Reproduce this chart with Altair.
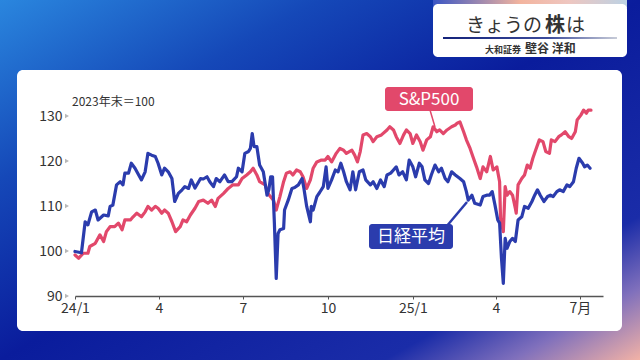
import altair as alt
import pandas as pd

FONT = "Noto Sans CJK JP"

# ---------------- data (days since 2024-01-01, index 2023年末=100) ----------------
nikkei_days = [0, 7, 11, 14, 18, 22, 25, 31, 36, 38, 41, 45, 49, 52, 54, 58, 61, 65, 69, 72,
               76, 79, 83, 87, 90, 94, 97, 101, 105, 108, 112, 116, 119, 123, 126, 130, 134, 136, 139, 143,
               146, 150, 153, 157, 162, 166, 170, 175, 177, 181, 184, 188, 190, 192, 194, 197, 200, 204, 208, 210,
               212, 214, 216, 218, 220, 222, 226, 227, 231, 235, 238, 242, 246, 248, 251, 255, 256, 258, 262, 265,
               269, 272, 274, 278, 282, 285, 288, 291, 294, 298, 301, 304, 308, 312, 315, 320, 323, 327, 331, 335,
               338, 342, 345, 348, 351, 355, 359, 362, 366, 369, 373, 376, 379, 383, 386, 390, 394, 397, 401, 404,
               408, 412, 417, 421, 424, 426, 430, 433, 439, 442, 446, 449, 452, 455, 458, 460, 462, 464, 466, 468,
               471, 474, 477, 480, 484, 487, 491, 495, 498, 501, 504, 508, 512, 515, 518, 522, 525, 529, 533, 536,
               540, 543, 546, 550, 552, 555, 558]
nikkei_vals = [99.9, 99.6, 106.5, 105.8, 108.7, 109.1, 106.9, 108.0, 107.8, 109.9, 110.2, 114.7, 115.4, 114.7, 117.3, 117.3, 119.5, 118.4, 116.9, 115.8,
               117.6, 121.7, 121.3, 121.0, 119.5, 116.9, 118.4, 117.6, 116.1, 111.0, 112.8, 113.6, 114.3, 113.9, 115.8, 114.0, 115.4, 116.1, 116.0, 116.5,
               115.4, 114.3, 116.1, 115.4, 116.9, 115.4, 115.4, 116.5, 118.4, 117.6, 121.7, 122.1, 122.8, 126.1, 123.2, 123.2, 119.1, 117.6, 112.4, 113.6,
               116.5, 116.5, 106.2, 93.9, 103.9, 104.7, 105.0, 109.1, 111.3, 113.9, 114.1, 114.7, 116.1, 113.9, 109.9, 106.5, 109.9, 109.1, 112.1, 113.0,
               114.3, 118.7, 113.9, 115.8, 118.0, 117.6, 119.5, 117.6, 115.4, 113.6, 117.6, 113.6, 117.6, 118.0, 115.8, 114.7, 115.4, 113.9, 115.8, 114.3,
               116.9, 117.3, 118.0, 118.7, 116.9, 117.6, 115.8, 120.2, 118.7, 116.5, 119.5, 118.7, 115.8, 115.0, 116.9, 119.1, 117.6, 118.4, 116.1, 115.4,
               117.6, 116.9, 116.1, 115.4, 113.2, 111.3, 112.4, 110.6, 110.2, 112.1, 112.4, 112.4, 113.2, 110.2, 106.9, 106.2, 98.4, 92.8, 102.8, 100.6,
               102.1, 102.8, 102.1, 106.9, 107.6, 109.9, 109.5, 111.0, 112.4, 113.6, 112.4, 111.0, 112.1, 112.4, 112.1, 113.2, 113.6, 113.2, 114.7, 114.3,
               115.4, 118.4, 120.6, 119.5, 118.7, 119.1, 118.4]

sp_days = [0, 4, 9, 14, 16, 22, 27, 31, 34, 38, 43, 47, 51, 54, 60, 63, 67, 72, 76, 79,
           83, 87, 90, 94, 97, 101, 105, 109, 114, 117, 121, 125, 130, 134, 139, 144, 148, 152, 155, 161,
           166, 171, 177, 181, 186, 190, 193, 197, 200, 206, 209, 215, 218, 222, 226, 229, 233, 236, 240, 244,
           247, 251, 255, 258, 262, 267, 271, 274, 278, 283, 287, 291, 294, 300, 303, 306, 309, 312, 316, 320,
           323, 327, 332, 338, 341, 345, 348, 352, 356, 359, 363, 366, 370, 374, 377, 381, 385, 388, 392, 395,
           399, 403, 408, 412, 414, 417, 421, 424, 428, 431, 435, 439, 442, 446, 450, 453, 457, 460, 461, 464,
           466, 468, 471, 474, 477, 478, 480, 484, 487, 490, 493, 496, 499, 503, 507, 510, 514, 516, 520, 524,
           527, 531, 535, 538, 542, 544, 548, 551, 554, 556, 559]
sp_vals = [99.1, 98.4, 99.5, 99.5, 101.0, 101.7, 103.6, 102.1, 104.3, 105.4, 105.4, 106.2, 104.7, 106.9, 106.9, 107.6, 108.4, 107.6, 108.7, 109.9,
           109.1, 109.9, 109.5, 108.4, 109.1, 108.4, 106.5, 104.3, 105.4, 106.9, 106.5, 108.0, 109.5, 111.0, 111.3, 110.6, 111.3, 109.9, 111.7, 112.8,
           113.9, 114.7, 114.7, 116.1, 116.9, 117.6, 118.4, 116.9, 115.4, 114.7, 112.8, 111.3, 109.1, 112.1, 115.4, 117.3, 117.6, 116.9, 118.0, 117.6,
           116.5, 113.9, 115.8, 118.4, 119.8, 120.2, 120.2, 121.0, 119.8, 121.7, 122.8, 122.4, 121.7, 122.4, 121.3, 119.8, 122.1, 125.8, 126.1, 125.4,
           124.3, 125.4, 125.8, 126.9, 127.6, 126.9, 125.4, 123.9, 125.8, 126.9, 126.1, 123.9, 125.8, 124.3, 122.4, 124.7, 125.4, 127.6, 126.5, 126.9,
           126.1, 126.9, 127.6, 128.0, 128.4, 128.7, 126.5, 124.7, 122.8, 121.0, 118.7, 116.1, 118.7, 117.6, 121.0, 118.0, 118.7, 115.4, 107.3, 104.3,
           114.3, 112.4, 113.2, 112.4, 109.5, 108.4, 114.7, 116.1, 116.9, 119.1, 118.4, 120.6, 122.4, 124.7, 124.3, 122.1, 121.7, 124.7, 124.3, 125.4,
           125.8, 126.5, 125.4, 125.0, 126.5, 129.1, 130.2, 131.3, 130.6, 131.3, 131.3]

series_names = ["S&P500", "日経平均"]
series_colors = ["#e2486b", "#2b3cad"]

y_ticks = [90, 100, 110, 120, 130]
x_tick_months = [(2024, 1), (2024, 4), (2024, 7), (2024, 10), (2025, 1), (2025, 4), (2025, 7)]
x_tick_labels = ["24/1", "4", "7", "10", "25/1", "4", "7月"]

# ---------------- table ----------------
base = pd.Timestamp("2024-01-01")


def to_dates(days):
    return [(base + pd.Timedelta(days=d)).strftime("%Y-%m-%dT00:00:00") for d in days]


df = pd.concat([
    pd.DataFrame({"date": to_dates(sp_days), "value": sp_vals, "series": series_names[0]}),
    pd.DataFrame({"date": to_dates(nikkei_days), "value": nikkei_vals, "series": series_names[1]}),
], ignore_index=True)

# ---------------- scales / axes ----------------
xscale = alt.Scale(domain=[alt.DateTime(year=2024, month=1, date=1),
                           alt.DateTime(year=2025, month=7, date=26)])
yscale = alt.Scale(domain=[90, 130], nice=False, zero=False)

expr_parts = []
for (yy, mm), lab in zip(x_tick_months, x_tick_labels):
    expr_parts.append(f"timeFormat(datum.value,'%Y-%m')=='{yy}-{mm:02d}' ? '{lab}'")
label_expr = " : ".join(expr_parts) + " : ''"

x_axis = alt.Axis(values=[alt.DateTime(year=yy, month=mm, date=1) for yy, mm in x_tick_months],
                  labelExpr=label_expr, title=None, grid=False, labelFlush=False,
                  domainColor="#555555", domainWidth=1.5, tickColor="#555555", tickSize=3,
                  labelFont=FONT, labelFontSize=14, labelColor="#333333", labelPadding=2,
                  labelAngle=0, zindex=1)
y_axis = alt.Axis(values=y_ticks, title=None, grid=False, domain=False, ticks=False, tickSize=0,
                  labelFont=FONT, labelFontSize=14, labelColor="#333333", labelPadding=13,
                  labelBaseline="middle", labelFlush=False, zindex=1)

one = pd.DataFrame({"k": [0]})
OX, OY = 75, 116  # plot origin inside the 640x360 canvas


def rect(x1, y1, x2, y2, **kw):
    return alt.Chart(one).mark_rect(**kw).encode(
        x=alt.value(x1 - OX), x2=alt.value(x2 - OX), y=alt.value(y1 - OY), y2=alt.value(y2 - OY))


def text(x, y, s, **kw):
    return alt.Chart(one).mark_text(text=s, font=FONT, **kw).encode(
        x=alt.value(x - OX), y=alt.value(y - OY))


def seg(x1, y1, x2, y2, **kw):
    return alt.Chart(one).mark_rule(**kw).encode(
        x=alt.value(x1 - OX), x2=alt.value(x2 - OX), y=alt.value(y1 - OY), y2=alt.value(y2 - OY))


bg_grad = alt.LinearGradient(gradient="linear", x1=0, y1=0, x2=1, y2=1, stops=[
    alt.GradientStop(offset=0.0, color="#2a86de"),
    alt.GradientStop(offset=0.25, color="#1548b8"),
    alt.GradientStop(offset=0.5, color="#0a1c9c"),
    alt.GradientStop(offset=0.8, color="#1a2ca8"),
    alt.GradientStop(offset=0.9, color="#8070bc"),
    alt.GradientStop(offset=1.0, color="#f2b2a6"),
])
strip_grad = alt.LinearGradient(gradient="linear", x1=0, y1=0, x2=1, y2=0, stops=[
    alt.GradientStop(offset=0.0, color="#3a56c4"),
    alt.GradientStop(offset=0.45, color="#f3b49e"),
    alt.GradientStop(offset=0.7, color="#eec6c0"),
    alt.GradientStop(offset=1.0, color="#bcd2e4"),
])
line_grad = alt.LinearGradient(gradient="linear", x1=0, y1=0, x2=1, y2=0, stops=[
    alt.GradientStop(offset=0.0, color="#14237a"),
    alt.GradientStop(offset=0.6, color="#3a4a9a"),
    alt.GradientStop(offset=1.0, color="#c8ccd8"),
])

background = rect(0, 0, 640, 360, fill=bg_grad)
panel = rect(17, 70, 622, 331, fill="#ffffff", cornerRadius=6)
title_box = rect(433, 4, 627, 57, fill="#ffffff", cornerRadius=5)
title_strip = rect(433, 0, 627, 8, fill=strip_grad)
title_line = rect(443, 37, 617, 39, fill=line_grad)
t1 = text(542, 32, "きょうの", fontSize=19, color="#333333", align="right", baseline="alphabetic")
t2 = text(545, 32, "株", fontSize=20, fontWeight="bold", color="#333333", align="left", baseline="alphabetic")
t3 = text(566, 32, "は", fontSize=19, color="#333333", align="left", baseline="alphabetic")
s1 = text(521, 53, "大和証券", fontSize=9, fontWeight="bold", color="#333333", align="right", baseline="alphabetic")
s2 = text(525, 53, "壁谷 洋和", fontSize=12, fontWeight="bold", color="#333333", align="left", baseline="alphabetic")
unit = text(72, 106, "2023年末＝100", fontSize=12, color="#333333", align="left", baseline="alphabetic")

lines = alt.Chart(df).mark_line(strokeWidth=3.2, strokeJoin="round", strokeCap="round").encode(
    x=alt.X("date:T", scale=xscale, axis=x_axis),
    y=alt.Y("value:Q", scale=yscale, axis=y_axis),
    color=alt.Color("series:N", scale=alt.Scale(domain=series_names, range=series_colors), legend=None),
    order=alt.Order("date:T"),
)

markers = alt.Chart(pd.DataFrame({"value": y_ticks})).mark_point(
    shape="triangle-right", filled=True, size=22, color="#b8b8b8", opacity=1).encode(
    x=alt.value(-8), y=alt.Y("value:Q", scale=yscale, axis=y_axis))

sp_box = rect(385, 87, 473, 111, fill=series_colors[0], cornerRadius=3)
sp_ptr = seg(430, 110, 435, 127, color=series_colors[0], strokeWidth=1.5)
sp_txt = text(429, 99.5, "S&P500", fontSize=17, color="#ffffff", align="center", baseline="middle")
nk_box = rect(369, 224, 453, 249, fill=series_colors[1], cornerRadius=3)
nk_ptr = seg(446, 227, 467, 202, color=series_colors[1], strokeWidth=2.5)
nk_txt = text(411, 237, "日経平均", fontSize=17, color="#ffffff", align="center", baseline="middle")

chart = alt.layer(
    background, panel, title_strip, title_box, title_line, t1, t2, t3, s1, s2, unit,
    lines, markers, sp_ptr, sp_box, sp_txt, nk_ptr, nk_box, nk_txt,
).properties(
    width=528, height=180,
    padding={"left": OX, "top": OY, "right": 37, "bottom": 64},
    autosize="none",
    background="#0c22a0",
).configure_view(stroke=None)

chart.save("out.html", embed_options={"renderer": "svg", "actions": False})
